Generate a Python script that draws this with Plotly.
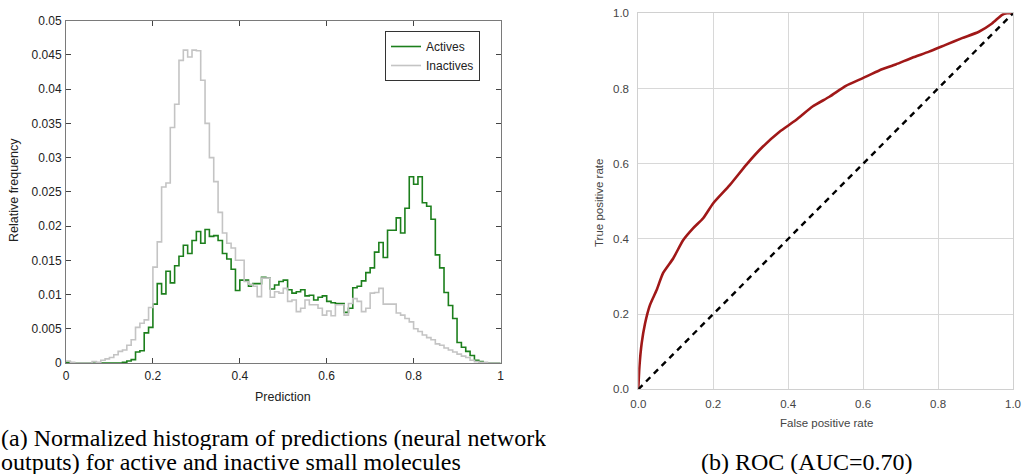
import numpy as np
import plotly.graph_objects as go

# ---------------- data ----------------
bin_edges = np.linspace(0, 1, 101)

actives = [
    0.0001, 0, 0, 0, 0, 0, 0, 0, 0, 0,
    0, 0, 0, 0.0001, 0.0003, 0.0005, 0.0016, 0.0018, 0.0044, 0.0052,
    0.0086, 0.0116, 0.0101, 0.0134, 0.0117, 0.0142, 0.0156, 0.0172, 0.0160, 0.0179,
    0.0192, 0.0175, 0.0195, 0.0185, 0.0186, 0.0179, 0.0160, 0.0152, 0.0137, 0.0106,
    0.0121, 0.0121, 0.0112, 0.0116, 0.0116, 0.0125, 0.0124, 0.0108, 0.0114, 0.0119,
    0.0121, 0.0107, 0.0102, 0.0104, 0.0107, 0.0098, 0.0099, 0.0092, 0.0096, 0.0098,
    0.0090, 0.0088, 0.0087, 0.0087, 0.0074, 0.0080, 0.0110, 0.0112, 0.0120, 0.0132,
    0.0139, 0.0162, 0.0176, 0.0154, 0.0194, 0.0194, 0.0212, 0.0190, 0.0226, 0.0272,
    0.0261, 0.0272, 0.0234, 0.0229, 0.0210, 0.0158, 0.0139, 0.0103, 0.0084, 0.0065,
    0.0030, 0.0023, 0.0017, 0.0011, 0.0004, 0.0002, 0, 0, 0, 0,
]

inactives = [
    0.0003, 0.0001, 0, 0, 0, 0, 0.0002, 0.0001, 0.0004, 0.0006,
    0.0008, 0.0012, 0.0017, 0.0019, 0.0026, 0.0034, 0.0052, 0.0058, 0.0063, 0.0081,
    0.0140, 0.0177, 0.0257, 0.0263, 0.0344, 0.0378, 0.0442, 0.0457, 0.0447, 0.0457,
    0.0456, 0.0413, 0.0350, 0.0300, 0.0265, 0.0220, 0.0190, 0.0175, 0.0168, 0.0150,
    0.0150, 0.0119, 0.0115, 0.0112, 0.0097, 0.0124, 0.0124, 0.0096, 0.0104, 0.0102,
    0.0109, 0.0090, 0.0092, 0.0075, 0.0080, 0.0092, 0.0085, 0.0085, 0.0080, 0.0070,
    0.0076, 0.0069, 0.0085, 0.0085, 0.0070, 0.0087, 0.0094, 0.0090, 0.0075, 0.0080,
    0.0102, 0.0103, 0.0109, 0.0086, 0.0086, 0.0086, 0.0073, 0.0070, 0.0065, 0.0060,
    0.0050, 0.0046, 0.0041, 0.0037, 0.0034, 0.0028, 0.0026, 0.0022, 0.0019, 0.0016,
    0.0013, 0.0010, 0.0008, 0.0004, 0.0002, 0.0001, 0.0001, 0, 0, 0,
]

fpr = [0.0, 0.003, 0.009, 0.018, 0.031, 0.049, 0.066, 0.093, 0.12, 0.146, 0.173, 0.2,
       0.244, 0.288, 0.332, 0.377, 0.421, 0.465, 0.51, 0.554, 0.598, 0.643, 0.687,
       0.731, 0.776, 0.82, 0.864, 0.909, 0.944, 0.971, 0.984, 1.0]
tpr = [0.0, 0.06, 0.122, 0.175, 0.224, 0.264, 0.309, 0.348, 0.397, 0.428, 0.455, 0.495,
       0.543, 0.597, 0.645, 0.685, 0.716, 0.752, 0.778, 0.807, 0.827, 0.848, 0.864,
       0.882, 0.898, 0.916, 0.934, 0.951, 0.973, 0.996, 1.0, 1.0]
chance_x = [0.0, 1.0]
chance_y = [0.0, 1.0]

hist_yticks = [0, 0.005, 0.01, 0.015, 0.02, 0.025, 0.03, 0.035, 0.04, 0.045, 0.05]
hist_yticklabels = ["0", "0.005", "0.01", "0.015", "0.02", "0.025", "0.03", "0.035", "0.04", "0.045", "0.05"]
hist_xticks = [0, 0.2, 0.4, 0.6, 0.8, 1]
hist_xticklabels = ["0", "0.2", "0.4", "0.6", "0.8", "1"]
roc_ticks = [0.0, 0.2, 0.4, 0.6, 0.8, 1.0]

caption_a = ["(a) Normalized histogram of predictions (neural network",
             "outputs) for active and inactive small molecules"]
caption_b = "(b) ROC (AUC=0.70)"

W, H = 1023, 474

fig = go.Figure()

fig.add_trace(go.Scatter(
    x=bin_edges, y=list(actives) + [actives[-1]], mode="lines", line_shape="hv",
    line=dict(color="#1c7f1c", width=1.6), name="Actives", xaxis="x", yaxis="y"))
fig.add_trace(go.Scatter(
    x=bin_edges, y=list(inactives) + [inactives[-1]], mode="lines", line_shape="hv",
    line=dict(color="#c4c4c4", width=1.6), name="Inactives", xaxis="x", yaxis="y"))

fig.add_trace(go.Scatter(
    x=fpr, y=tpr, mode="lines", line=dict(color="#a01818", width=2.6, shape="spline", smoothing=0.6),
    showlegend=False, xaxis="x2", yaxis="y2"))
fig.add_trace(go.Scatter(
    x=chance_x, y=chance_y, mode="lines", line=dict(color="black", width=2.4, dash="6px,5px"),
    showlegend=False, xaxis="x2", yaxis="y2"))

ax_font = dict(family="Liberation Sans, Arial, sans-serif", size=12, color="#222")
title_font = dict(family="Liberation Sans, Arial, sans-serif", size=12.5, color="#222")
roc_font = dict(family="Liberation Sans, Arial, sans-serif", size=11.5, color="#444")

fig.update_layout(
    width=W, height=H, margin=dict(l=0, r=0, t=0, b=0, autoexpand=False),
    paper_bgcolor="white", plot_bgcolor="white",
    showlegend=True,
    legend=dict(x=385 / W, y=1 - 31 / H, xanchor="left", yanchor="top",
                bgcolor="white", bordercolor="#333", borderwidth=1,
                font=dict(family="Liberation Sans, Arial, sans-serif", size=12, color="#222"),
                tracegroupgap=0, itemwidth=30),
    xaxis=dict(domain=[66 / W, 500.5 / W], range=[0, 1], tickvals=hist_xticks, ticktext=hist_xticklabels,
               showgrid=False, zeroline=False, showline=True, linecolor="#7a7a7a", linewidth=1,
               mirror="ticks", ticks="inside", ticklen=5, tickcolor="#444", tickfont=ax_font,
               ticklabelstandoff=2, automargin=False, anchor="y"),
    yaxis=dict(domain=[1 - 363 / H, 1 - 20.7 / H], range=[0, 0.05], tickvals=hist_yticks, ticktext=hist_yticklabels,
               showgrid=False, zeroline=False, showline=True, linecolor="#7a7a7a", linewidth=1,
               mirror="ticks", ticks="inside", ticklen=5, tickcolor="#444", tickfont=ax_font,
               ticklabelstandoff=1, automargin=False, anchor="x"),
    xaxis2=dict(domain=[638.3 / W, 1013 / W], range=[0, 1], tickvals=roc_ticks, tickformat=".1f",
                showgrid=True, gridcolor="#d8d8d8", gridwidth=1, zeroline=False,
                showline=True, linecolor="#d0d0d0", linewidth=1, mirror=True, ticks="",
                tickfont=roc_font, ticklabelstandoff=4, automargin=False, anchor="y2"),
    yaxis2=dict(domain=[1 - 389.3 / H, 1 - 13.3 / H], range=[0, 1], tickvals=roc_ticks, tickformat=".1f",
                showgrid=True, gridcolor="#d8d8d8", gridwidth=1, zeroline=False,
                showline=True, linecolor="#d0d0d0", linewidth=1, mirror=True, ticks="",
                tickfont=roc_font, ticklabelstandoff=6, automargin=False, anchor="x2"),
)

# axis titles
fig.add_annotation(text="Prediction", xref="paper", yref="paper", x=283 / W, y=1 - 397 / H,
                   xanchor="center", yanchor="middle", showarrow=False, font=title_font)
fig.add_annotation(text="Relative frequency", xref="paper", yref="paper", x=14 / W, y=1 - 190 / H,
                   xanchor="center", yanchor="middle", showarrow=False, font=title_font, textangle=-90)
fig.add_annotation(text="False positive rate", xref="paper", yref="paper", x=826 / W, y=1 - 423 / H,
                   xanchor="center", yanchor="middle", showarrow=False, font=roc_font)
fig.add_annotation(text="True positive rate", xref="paper", yref="paper", x=599 / W, y=1 - 203 / H,
                   xanchor="center", yanchor="middle", showarrow=False, font=roc_font, textangle=-90)

# captions
cap_font = dict(family="Liberation Serif, Times New Roman, serif", size=24, color="black")
fig.add_annotation(text=caption_a[0], xref="paper", yref="paper", x=0, y=1 - 451 / H,
                   xanchor="left", yanchor="bottom", showarrow=False, font=cap_font,
                   borderpad=0, height=24)
fig.add_annotation(text=caption_a[1], xref="paper", yref="paper", x=0, y=1 - 475 / H,
                   xanchor="left", yanchor="bottom", showarrow=False, font=cap_font,
                   borderpad=0, height=24)
fig.add_annotation(text=caption_b, xref="paper", yref="paper", x=807 / W, y=1 - 475 / H,
                   xanchor="center", yanchor="bottom", showarrow=False, font=cap_font,
                   borderpad=0, height=24)

fig.write_html("out.html", config={"displayModeBar": False},
               post_script="document.body.style.margin='0px';")
